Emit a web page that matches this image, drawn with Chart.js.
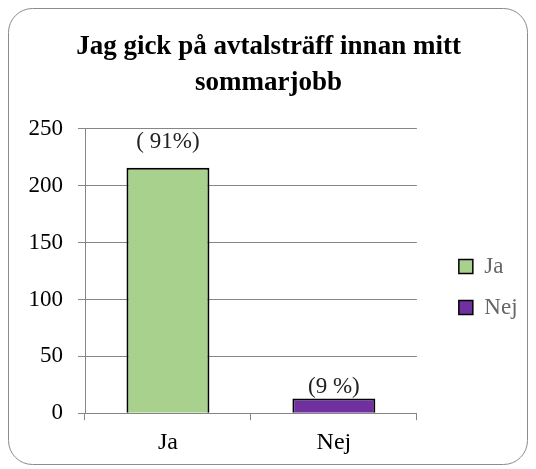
<!DOCTYPE html>
<html>
<head>
<meta charset="utf-8">
<script src="https://cdn.jsdelivr.net/npm/chart.js@4"></script>
<style>
  html, body { margin: 0; padding: 0; background: #fff; }
</style>
</head>
<body>
<canvas id="chart" width="536" height="469"></canvas>
<script>
// Data
const categories = ["Ja", "Nej"];
const counts = [216, 13];
const percentLabels = ["( 91%)", "(9 %)"];
const yTicks = [0, 50, 100, 150, 200, 250];
const barColors = ["#A9D18E", "#7030A0"];

const serif = "Liberation Serif";
const gridGrey = "#868686";

// Rounded frame round the whole chart
const frame = {
    id: "frame",
    beforeDraw(chart) {
        const ctx = chart.ctx;
        ctx.save();
        ctx.fillStyle = "#fff";
        ctx.fillRect(0, 0, chart.width, chart.height);
        ctx.beginPath();
        ctx.roundRect(8.5, 8.5, 519, 456, 24);
        ctx.strokeStyle = "#8c8c8c";
        ctx.lineWidth = 1;
        ctx.stroke();
        ctx.restore();
    }
};

// Percent labels above the bars
const barLabels = {
    id: "barLabels",
    afterDatasetsDraw(chart, args, opts) {
        const ctx = chart.ctx;
        const meta = chart.getDatasetMeta(0);
        ctx.save();
        ctx.font = opts.font;
        ctx.fillStyle = opts.color;
        ctx.textAlign = "center";
        ctx.textBaseline = "middle";
        meta.data.forEach((bar, i) => {
            ctx.fillText(percentLabels[i], bar.x, bar.y - opts.offsets[i]);
        });
        ctx.restore();
    }
};

const ctx = document.getElementById("chart").getContext("2d");
const chart = new Chart(ctx, {
    type: "bar",
    data: {
        labels: categories,
        datasets: [{
            data: counts,
            backgroundColor: barColors,
            borderColor: "#000",
            borderWidth: 2,
            categoryPercentage: 1,
            barPercentage: 0.5
        }]
    },
    options: {
        responsive: false,
        animation: false,
        layout: { padding: { top: 10, left: 10, right: 9, bottom: 4 } },
        plugins: {
            title: {
                display: true,
                text: ["Jag gick på avtalsträff innan mitt", "sommarjobb"],
                color: "#000",
                font: { family: serif, size: 27, weight: "bold", lineHeight: 1.333 },
                padding: { top: 19, bottom: 28 }
            },
            legend: {
                position: "right",
                fullSize: false,
                onClick: null,
                // empty title only pushes the two items down a little
                title: { display: true, text: "", font: { size: 10, lineHeight: 1.2 }, padding: 10 },
                labels: {
                    boxWidth: 14,
                    boxHeight: 14,
                    padding: 18,
                    color: "#000",
                    font: { family: serif, size: 23 },
                    generateLabels: () => categories.map((c, i) => ({
                        text: c,
                        fillStyle: barColors[i],
                        strokeStyle: "#000",
                        lineWidth: 1.5,
                        hidden: false,
                        index: i
                    }))
                }
            },
            tooltip: { enabled: false },
            barLabels: {
                font: "23px " + serif,
                color: "#222",
                offsets: [26, 11]
            }
        },
        scales: {
            x: {
                grid: { color: gridGrey, drawOnChartArea: false, tickLength: 7, offset: true },
                border: { color: gridGrey },
                ticks: { color: "#000", font: { family: serif, size: 24 }, padding: 8 }
            },
            y: {
                min: 0,
                max: 250,
                afterBuildTicks: s => { s.ticks = yTicks.map(v => ({ value: v })); },
                afterFit: s => { s.width = 75; },
                grid: { color: gridGrey, tickLength: 7 },
                border: { color: gridGrey },
                ticks: { color: "#000", font: { family: serif, size: 23 }, padding: 15 }
            },
            spacer: {
                type: "linear",
                position: "right",
                display: true,
                afterFit: s => { s.width = 24; },
                grid: { display: false },
                border: { display: false },
                ticks: { display: false }
            }
        }
    },
    plugins: [frame, barLabels]
});
</script>
</body>
</html>
